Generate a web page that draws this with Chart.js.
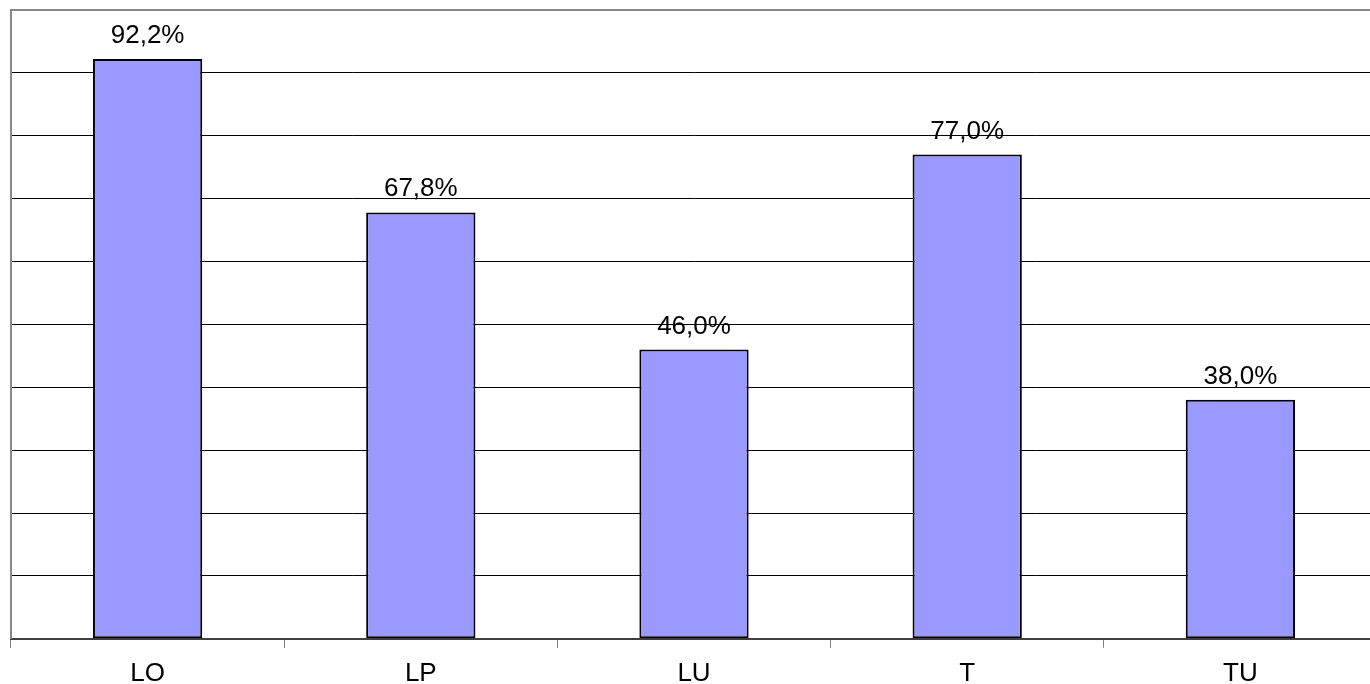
<!DOCTYPE html>
<html>
<head>
<meta charset="utf-8">
<script src="https://cdn.jsdelivr.net/npm/chart.js@4.4.0/dist/chart.umd.min.js"></script>
<style>
  html, body { margin: 0; padding: 0; background: #fff; overflow: hidden; width: 1370px; height: 684px; }
  #wrap { width: 1380px; height: 702px; }
</style>
</head>
<body>
<div id="wrap"><canvas id="c" width="1380" height="702"></canvas></div>
<script>
const categories = ["LO", "LP", "LU", "T", "TU"];
const values = [92.2, 67.8, 46.0, 77.0, 38.0];
const yMin = 0;
const yMax = 100;
const yStep = 10;

const FONT = '"Liberation Sans", Arial, sans-serif';

const valueLabels = {
  id: 'valueLabels',
  afterDatasetsDraw(chart) {
    const ctx = chart.ctx;
    const meta = chart.getDatasetMeta(0);
    ctx.save();
    ctx.font = '26px ' + FONT;
    ctx.fillStyle = '#000';
    ctx.textAlign = 'center';
    ctx.textBaseline = 'alphabetic';
    meta.data.forEach((bar, i) => {
      const txt = values[i].toFixed(1).replace('.', ',') + '%';
      ctx.fillText(txt, bar.x, bar.y - 16);
    });
    ctx.restore();
  }
};

new Chart(document.getElementById('c'), {
  type: 'bar',
  data: {
    labels: categories,
    datasets: [{
      data: values,
      backgroundColor: '#9999FF',
      borderColor: '#000000',
      borderWidth: 2,
      borderSkipped: false,
      barPercentage: 0.4,
      categoryPercentage: 1.0
    }]
  },
  options: {
    responsive: false,
    animation: false,
    layout: { padding: { left: 11, top: 10, right: 3, bottom: 3 } },
    plugins: { legend: { display: false }, tooltip: { enabled: false } },
    scales: {
      x: {
        grid: {
          display: true,
          drawOnChartArea: false,
          drawTicks: true,
          tickLength: 9,
          color: '#808080',
          lineWidth: 1
        },
        border: { display: true, color: '#404040', width: 2 },
        ticks: {
          color: '#000',
          font: { family: FONT, size: 26 },
          padding: 10
        }
      },
      y: {
        min: yMin,
        max: yMax,
        ticks: { display: false, stepSize: yStep },
        grid: {
          drawTicks: false,
          color: (c) => (c.tick && c.tick.value === yMax) ? '#888888' : (c.tick && c.tick.value === yMin ? 'rgba(0,0,0,0)' : '#000000'),
          lineWidth: (c) => (c.tick && c.tick.value === yMax) ? 2 : 1
        },
        border: { display: true, color: '#888888', width: 2 }
      }
    }
  },
  plugins: [valueLabels]
});
</script>
</body>
</html>
